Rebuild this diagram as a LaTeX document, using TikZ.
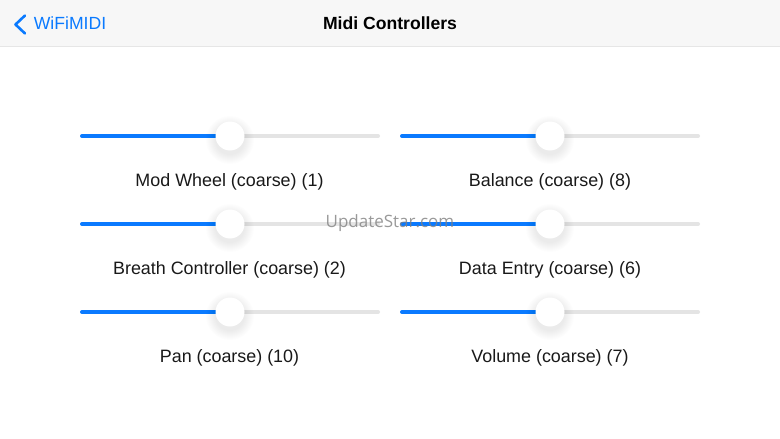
\documentclass[tikz,border=0pt]{standalone}
\usepackage{fontspec}
\setmainfont{Liberation Sans}
\newfontfamily\markfont{Open Sans}
\definecolor{barbg}{HTML}{F7F7F7}
\definecolor{barline}{HTML}{E6E6E6}
\definecolor{iosblue}{HTML}{0A7AFF}
\definecolor{trackgray}{HTML}{E4E4E4}
\tikzset{
  trackon/.style={line width=4pt, line cap=round, iosblue},
  trackoff/.style={line width=4pt, line cap=round, trackgray},
  knob/.style={circle, fill=white, minimum size=29pt, inner sep=0pt},
  knobshade/.style={circle, fill=black, fill opacity=0.008, inner sep=0pt},
  caption/.style={anchor=base, font=\fontsize{17.9}{20}\selectfont, text=black!90},
}
\begin{document}
\begin{tikzpicture}[x=1pt, y=-1pt]

% Fix the page to the size of the screen
\fill[white] (0,0) rectangle (780,439);
\useasboundingbox (0,0) rectangle (780,439);

% Navigation bar
\fill[barbg] (0,0) rectangle (780,46);
\draw[barline, line width=1.5pt] (0,46.5) -- (780,46.5);

% Back chevron and titles
\draw[iosblue, line width=2.6pt, line cap=round, line join=round] (25,15.5) -- (15.5,24.5) -- (25,33.5);
\node[anchor=base, font=\fontsize{17.6}{20}\selectfont, text=iosblue] (back) at (70,30) {WiFiMIDI};
\node[anchor=base, font=\bfseries\fontsize{17.6}{20}\selectfont, text=black] (title) at (390,30) {Midi Controllers};

% Left column, first slider
\draw[trackoff] (230,136) -- (378,136);
\draw[trackon] (82,136) -- (230,136);
\foreach \r in {15,16,17,18,19,20,21,22,23,24}
  \node[knobshade, minimum size=2*\r pt] at (230,140) {};
\node[knob] (modknob) at (230,136) {};
\node[caption] (modlabel) at (229.5,186) {Mod Wheel (coarse) (1)};

% Left column, second slider
\draw[trackoff] (230,224) -- (378,224);
\draw[trackon] (82,224) -- (230,224);
\foreach \r in {15,16,17,18,19,20,21,22,23,24}
  \node[knobshade, minimum size=2*\r pt] at (230,228) {};
\node[knob] (breathknob) at (230,224) {};
\node[caption] (breathlabel) at (229.5,274) {Breath Controller (coarse) (2)};

% Left column, third slider
\draw[trackoff] (230,312) -- (378,312);
\draw[trackon] (82,312) -- (230,312);
\foreach \r in {15,16,17,18,19,20,21,22,23,24}
  \node[knobshade, minimum size=2*\r pt] at (230,316) {};
\node[knob] (panknob) at (230,312) {};
\node[caption] (panlabel) at (229.5,362) {Pan (coarse) (10)};

% Right column, first slider
\draw[trackoff] (550,136) -- (698,136);
\draw[trackon] (402,136) -- (550,136);
\foreach \r in {15,16,17,18,19,20,21,22,23,24}
  \node[knobshade, minimum size=2*\r pt] at (550,140) {};
\node[knob] (balanceknob) at (550,136) {};
\node[caption] (balancelabel) at (550,186) {Balance (coarse) (8)};

% Right column, second slider
\draw[trackoff] (550,224) -- (698,224);
\draw[trackon] (402,224) -- (550,224);
\foreach \r in {15,16,17,18,19,20,21,22,23,24}
  \node[knobshade, minimum size=2*\r pt] at (550,228) {};
\node[knob] (dataknob) at (550,224) {};
\node[caption] (datalabel) at (550,274) {Data Entry (coarse) (6)};

% Right column, third slider
\draw[trackoff] (550,312) -- (698,312);
\draw[trackon] (402,312) -- (550,312);
\foreach \r in {15,16,17,18,19,20,21,22,23,24}
  \node[knobshade, minimum size=2*\r pt] at (550,316) {};
\node[knob] (volumeknob) at (550,312) {};
\node[caption] (volumelabel) at (550,362) {Volume (coarse) (7)};

% Watermark over the middle row
\node[anchor=base, font=\markfont\fontsize{17}{20}\selectfont, text=gray, text opacity=0.8] (mark) at (390,227) {UpdateStar.com};

\end{tikzpicture}
\end{document}
